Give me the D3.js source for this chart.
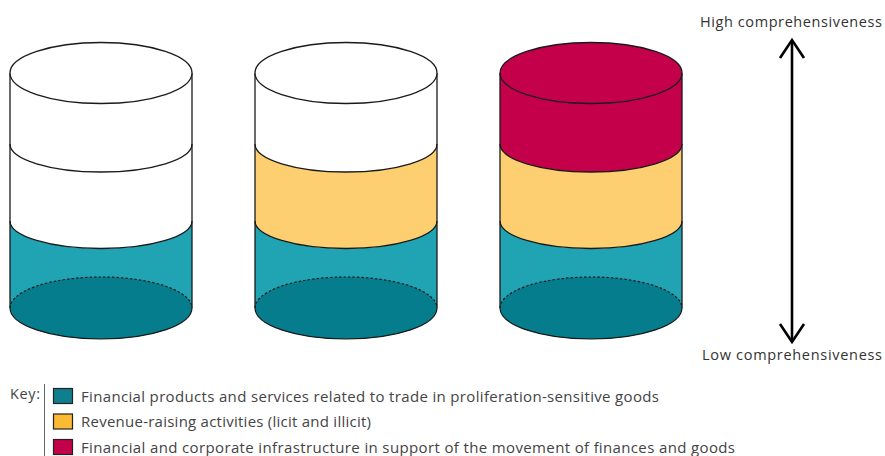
<!DOCTYPE html>
<html lang="en">
<head>
  <meta charset="UTF-8">
  <title>Comprehensiveness of counter-proliferation finance</title>
  <script src="https://d3js.org/d3.v7.min.js"></script>
  <style>
    body {
      margin: 0;
      background-color: #fff;
      font-family: "Open Sans", Arial, sans-serif;
    }
    svg {
      display: block;
    }
  </style>
</head>
<body>
<svg width="885" height="456"></svg>

<script>
  // Layers, bottom to top
  const layers = [
    "Financial products and services related to trade in proliferation-sensitive goods",
    "Revenue-raising activities (licit and illicit)",
    "Financial and corporate infrastructure in support of the movement of finances and goods"
  ];
  const layerColors = ["#20a3b3", "#fdcf70", "#c4004a"];
  const keyColors = ["#0f7f8e", "#fbb934", "#c4004a"];
  const darkTeal = "#067d8c";

  // how many layers are filled in each cylinder
  const cylinders = ["basic", "intermediate", "comprehensive"];
  const filledLayers = [1, 2, 3];

  const scaleLabels = ["High comprehensiveness", "Low comprehensiveness"];

  const svg = d3.select("svg");

  const x = d3.scalePoint().domain(cylinders).range([101, 591]);
  // level 0 = base of cylinder, 3 = top
  const y = d3.scaleLinear().domain([0, 1, 2, 3]).range([308, 221, 144, 73]);
  const ry = d3.scaleLinear().domain([0, 1, 2, 3]).range([31, 27.5, 28, 30.5]);
  const rx = 91;

  // front half of ellipse, from left to right
  function frontArc(cx, cy, r) {
    return `M${cx - rx},${cy} A${rx},${r} 0 0 0 ${cx + rx},${cy}`;
  }
  function backArc(cx, cy, r) {
    return `M${cx - rx},${cy} A${rx},${r} 0 0 1 ${cx + rx},${cy}`;
  }
  // band between two levels
  function band(cx, lo, hi) {
    const y0 = y(lo), y1 = y(hi);
    return `M${cx - rx},${y1} L${cx - rx},${y0} A${rx},${ry(lo)} 0 0 0 ${cx + rx},${y0}` +
      ` L${cx + rx},${y1} A${rx},${ry(hi)} 0 0 1 ${cx - rx},${y1} Z`;
  }

  const stroke = "#1a1a1a";

  cylinders.forEach((c, ci) => {
    const cx = x(c);
    const g = svg.append("g");
    const n = filledLayers[ci];

    // bands
    layers.forEach((l, li) => {
      g.append("path")
        .attr("d", band(cx, li, li + 1))
        .attr("fill", li < n ? layerColors[li] : "#fff");
    });

    // base ellipse
    g.append("ellipse")
      .attr("cx", cx).attr("cy", y(0))
      .attr("rx", rx).attr("ry", ry(0))
      .attr("fill", darkTeal);
    g.append("path")
      .attr("d", backArc(cx, y(0), ry(0)))
      .attr("fill", "none")
      .attr("stroke", stroke)
      .attr("stroke-width", 1.2)
      .attr("stroke-dasharray", "2.5,2");
    g.append("path")
      .attr("d", frontArc(cx, y(0), ry(0)))
      .attr("fill", "none")
      .attr("stroke", stroke)
      .attr("stroke-width", 1.2);

    // band boundaries
    [1, 2].forEach(lv => {
      g.append("path")
        .attr("d", frontArc(cx, y(lv), ry(lv)))
        .attr("fill", "none")
        .attr("stroke", stroke)
        .attr("stroke-width", 1.3);
    });

    // sides
    [-rx, rx].forEach(dx => {
      g.append("line")
        .attr("x1", cx + dx).attr("x2", cx + dx)
        .attr("y1", y(3)).attr("y2", y(0))
        .attr("stroke", stroke)
        .attr("stroke-width", 1.3);
    });

    // top lid
    g.append("ellipse")
      .attr("cx", cx).attr("cy", y(3))
      .attr("rx", rx).attr("ry", ry(3))
      .attr("fill", n >= 3 ? layerColors[2] : "#fff")
      .attr("stroke", stroke)
      .attr("stroke-width", 1.3);
  });

  // comprehensiveness arrow
  const ax = 792, aTop = 40, aBot = 342;
  svg.append("line")
    .attr("x1", ax).attr("x2", ax)
    .attr("y1", aTop + 1).attr("y2", aBot - 1)
    .attr("stroke", "#000").attr("stroke-width", 2.6);
  svg.append("path")
    .attr("d", `M${ax - 12},${aTop + 18} L${ax},${aTop} L${ax + 12},${aTop + 18}`)
    .attr("fill", "none").attr("stroke", "#000").attr("stroke-width", 2.6);
  svg.append("path")
    .attr("d", `M${ax - 12},${aBot - 18} L${ax},${aBot} L${ax + 12},${aBot - 18}`)
    .attr("fill", "none").attr("stroke", "#000").attr("stroke-width", 2.6);

  const scaleWidths = [182, 180];
  svg.selectAll("text.scale")
    .data(scaleLabels)
    .join("text")
    .attr("class", "scale")
    .attr("x", (d, i) => 882 - scaleWidths[i])
    .attr("y", (d, i) => i === 0 ? 27 : 360)
    .attr("font-size", 14.5)
    .attr("fill", "#333")
    .attr("textLength", (d, i) => scaleWidths[i])
    .attr("lengthAdjust", "spacing")
    .text(d => d);

  // key
  svg.append("text")
    .attr("x", 10).attr("y", 399)
    .attr("font-size", 14.5)
    .attr("fill", "#444")
    .attr("textLength", 30)
    .attr("lengthAdjust", "spacing")
    .text("Key:");
  svg.append("line")
    .attr("x1", 44.5).attr("x2", 44.5)
    .attr("y1", 384).attr("y2", 456)
    .attr("stroke", "#666").attr("stroke-width", 1);

  const keyWidths = [578, 290, 654];
  const key = svg.selectAll("g.key")
    .data(layers)
    .join("g")
    .attr("class", "key")
    .attr("transform", (d, i) => `translate(0,${388 + i * 25.5})`);
  key.append("rect")
    .attr("x", 53.5).attr("y", 0.5)
    .attr("width", 19).attr("height", 15)
    .attr("fill", (d, i) => keyColors[i])
    .attr("stroke", "#222").attr("stroke-width", 1.2);
  key.append("text")
    .attr("x", 81).attr("y", 13.5)
    .attr("font-size", 15)
    .attr("fill", "#444")
    .attr("textLength", (d, i) => keyWidths[i])
    .attr("lengthAdjust", "spacing")
    .text(d => d);
</script>
</body>
</html>
